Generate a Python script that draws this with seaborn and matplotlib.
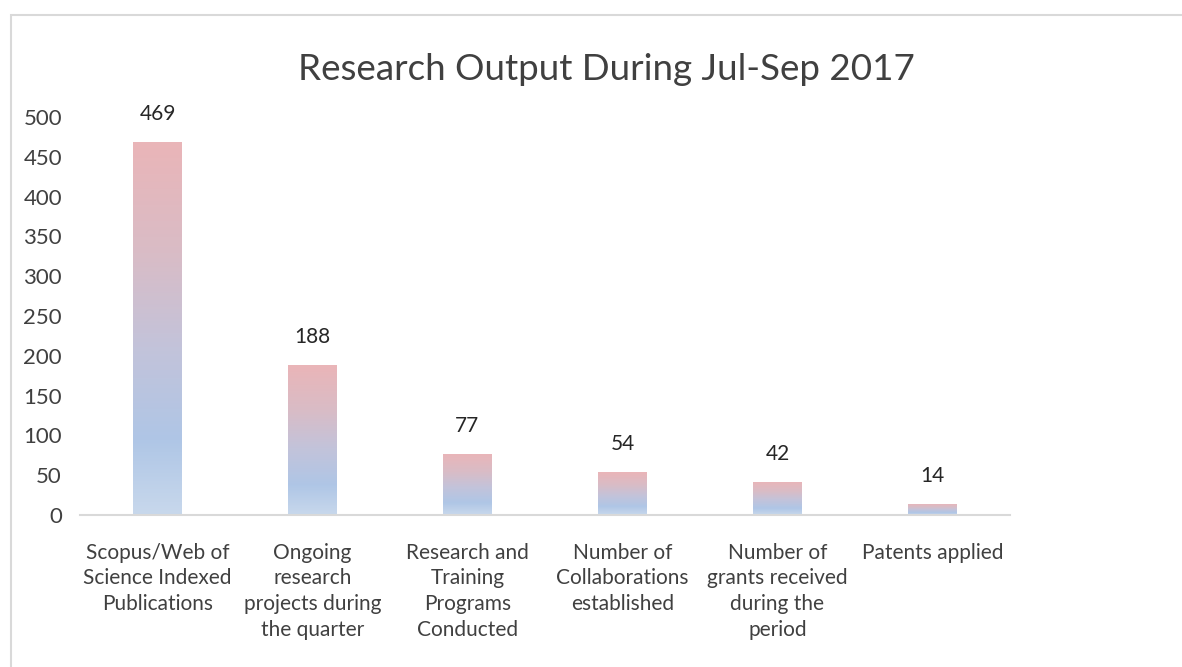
import numpy as np
import matplotlib
matplotlib.use("Agg")
import matplotlib.pyplot as plt
from matplotlib.colors import LinearSegmentedColormap
from matplotlib.patches import Rectangle
import seaborn as sns

categories = [
    "Scopus/Web of Science Indexed Publications",
    "Ongoing research projects during the quarter",
    "Research and Training Programs Conducted",
    "Number of Collaborations established",
    "Number of grants received during the period",
    "Patents applied",
]
tick_labels = [
    "Scopus/Web of\nScience Indexed\nPublications",
    "Ongoing\nresearch\nprojects during\nthe quarter",
    "Research and\nTraining\nPrograms\nConducted",
    "Number of\nCollaborations\nestablished",
    "Number of\ngrants received\nduring the\nperiod",
    "Patents applied",
]
values = [469, 188, 77, 54, 42, 14]
y_ticks = [0, 50, 100, 150, 200, 250, 300, 350, 400, 450, 500]

sns.set_theme(style="white")
plt.rcParams["font.family"] = ["Lato", "DejaVu Sans"]

text_color = "#404040"
grad_cmap = LinearSegmentedColormap.from_list(
    "bar_grad",
    [
        (0.0, "#c8d8ec"),
        (0.2, "#afc6e6"),
        (0.45, "#c3c3da"),
        (0.7, "#d9bcc6"),
        (1.0, "#eab5b8"),
    ],
)

fig = plt.figure(figsize=(11.82, 6.67), dpi=100)
ax = fig.add_axes([80 / 1182, 152 / 667, 930 / 1182, 398 / 667])

sns.barplot(x=categories, y=values, color="#c8d8ec", width=0.31, ax=ax,
            linewidth=0, saturation=1)

# vertical gradient fill, clipped to each bar
grad = np.linspace(0, 1, 256).reshape(-1, 1)
for patch in ax.patches:
    x0, y0 = patch.get_xy()
    w, h = patch.get_width(), patch.get_height()
    img = ax.imshow(grad, extent=[x0, x0 + w, y0, y0 + h], origin="lower",
                    aspect="auto", cmap=grad_cmap, zorder=patch.get_zorder() + 0.1)
    img.set_clip_path(patch)

ax.bar_label(ax.containers[0], labels=[str(v) for v in values], padding=13,
             fontsize=15, color="#262626")

ax.set_xlim(-0.5, len(categories) - 0.5)
ax.set_ylim(0, 500)
ax.set_yticks(y_ticks)
ax.set_xticks(range(len(categories)))
ax.set_xticklabels(tick_labels, fontsize=15, color=text_color, linespacing=1.35, va="top")
ax.tick_params(axis="y", labelsize=16, labelcolor=text_color, length=0, pad=13)
ax.tick_params(axis="x", length=0, pad=20)
ax.set_xlabel("")
ax.set_ylabel("")

sns.despine(ax=ax, left=True)
ax.spines["bottom"].set_color("#d9d9d9")
ax.spines["bottom"].set_linewidth(1.5)

fig.text(606 / 1182, 1 - 70 / 667, "Research Output During Jul-Sep 2017",
         ha="center", va="center", fontsize=26.5, color=text_color)

# chart frame
fig.patches.append(Rectangle((11 / 1182, -0.1), 1.2, (667 - 15) / 667 + 0.1,
                             transform=fig.transFigure, fill=False,
                             edgecolor="#d9d9d9", linewidth=1.5))

fig.savefig("out.png", dpi=100)
